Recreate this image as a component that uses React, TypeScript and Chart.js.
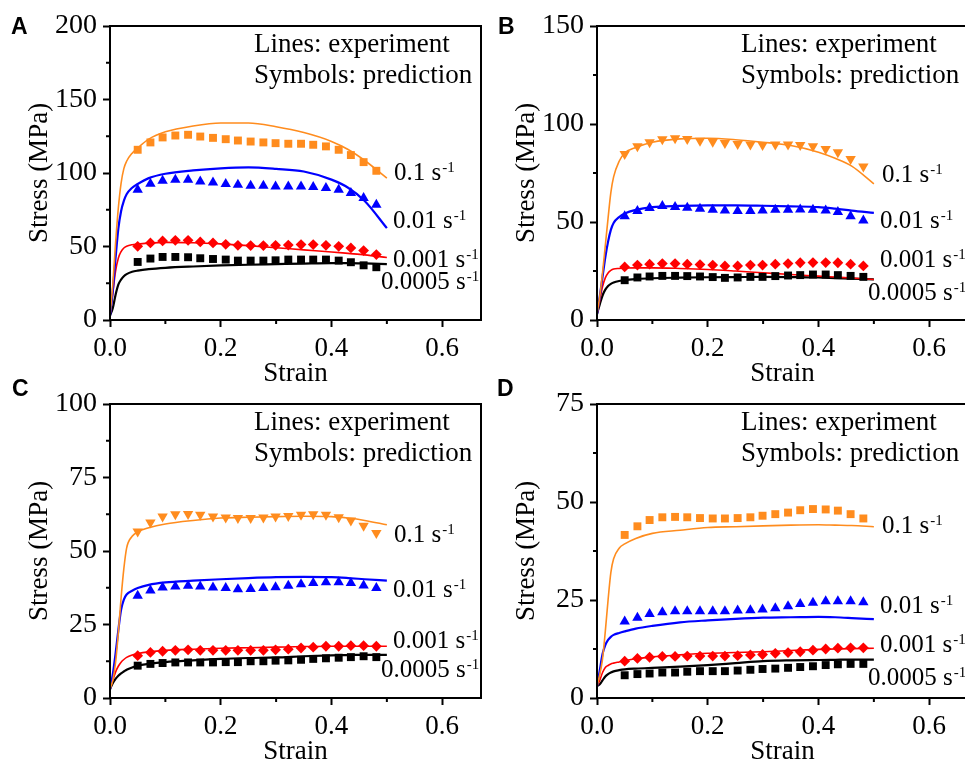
import { useEffect, useRef } from 'react';
import { Chart, registerables } from 'chart.js';

Chart.register(...registerables);

const SERIF = "'Liberation Serif', 'Times New Roman', serif";
const SANS = "'Liberation Sans', Arial, sans-serif";

const ORANGE = '#FF8C1E';
const BLUE = '#0000FF';
const RED = '#FF0000';
const BLACK = '#000000';

// Strain grid of the measured curves and of the model points
const lineStrain = [0, 0.005, 0.01, 0.015, 0.02, 0.025, 0.03, 0.04, 0.05, 0.07, 0.1, 0.15, 0.2, 0.25, 0.3, 0.35, 0.4, 0.43, 0.46, 0.5];
const predStrain = [0.05, 0.073, 0.095, 0.118, 0.141, 0.163, 0.186, 0.209, 0.231, 0.254, 0.277, 0.299, 0.322, 0.345, 0.367, 0.39, 0.413, 0.435, 0.458, 0.481];

const rateLabels = ['0.1', '0.01', '0.001', '0.0005'];
const rateColors = [ORANGE, BLUE, RED, BLACK];

// ---- Panel A ----
const aExp01 = [3, 24, 52, 76, 93, 103, 108, 113.5, 117, 123, 128, 132, 134, 134, 131.5, 127.5, 121.5, 116, 108.5, 96.5];
const aExp001 = [3, 20, 42, 62, 74, 81, 85.5, 90, 92.5, 96.5, 99.5, 101.8, 103.2, 103.8, 102.8, 101, 95.5, 90, 81, 62.5];
const aExp0001 = [3, 18, 33, 42, 46.5, 49, 50.2, 51.2, 51.6, 52.3, 52.8, 52.6, 51.8, 50.6, 49.2, 47.7, 46.3, 45.3, 44.3, 42.5];
const aExp00005 = [3, 8, 17, 24, 27.5, 29.8, 31.2, 32.8, 33.6, 34.6, 35.5, 36.4, 37.1, 37.6, 38.0, 38.4, 38.7, 38.7, 38.5, 38.0];
const aPred01 = [115.8, 120.8, 124.2, 125.5, 126.0, 124.8, 123.9, 123.0, 122.1, 121.4, 120.8, 120.3, 119.9, 119.9, 119.2, 118.1, 115.8, 112.2, 107.4, 101.5];
const aPred001 = [88.6, 92.7, 94.7, 95.4, 95.4, 94.3, 93.6, 92.5, 92.0, 91.3, 91.3, 90.9, 90.9, 90.9, 90.4, 89.8, 88.6, 86.4, 83.0, 78.4];
const aPred0001 = [50.1, 52.4, 53.8, 54.2, 54.2, 53.1, 52.4, 51.5, 50.8, 50.6, 50.6, 50.8, 51.0, 51.3, 51.3, 50.8, 50.1, 49.0, 47.2, 44.5];
const aPred00005 = [39.5, 41.8, 42.9, 42.9, 42.7, 42.0, 41.5, 41.1, 40.4, 40.4, 40.4, 40.6, 41.1, 41.1, 41.1, 41.1, 40.4, 39.3, 37.2, 35.9];

// ---- Panel B ----
const bExp01 = [3, 12, 24, 38, 52, 65, 73, 81, 85.2, 88, 90.7, 92.4, 92.7, 92, 90.7, 89, 85.6, 82.5, 78.5, 69.5];
const bExp001 = [3, 12, 22, 32, 40, 46, 49.5, 52.5, 54.3, 56.2, 57.6, 58.2, 58.5, 58.5, 58.3, 58, 57.6, 56.8, 55.8, 54.7];
const bExp0001 = [3, 10, 17, 21.5, 24, 25.3, 26, 26.3, 26.5, 26.6, 26.6, 26.3, 25.8, 25, 24.1, 23.2, 22.4, 21.9, 21.4, 20.7];
const bExp00005 = [3, 8, 12.5, 15.5, 17.3, 18.4, 19.1, 19.9, 20.4, 20.9, 21.3, 21.6, 21.8, 21.9, 22, 21.9, 21.7, 21.4, 21.1, 20.7];
const bPred01 = [84.7, 88.6, 90.7, 92.2, 92.7, 92.4, 91.5, 91.0, 90.3, 89.8, 89.5, 89.3, 89.5, 89.5, 89.3, 88.6, 87.3, 85.6, 82.2, 78.3];
const bPred001 = [52.9, 55.6, 57.1, 58.1, 57.6, 57.3, 56.8, 56.3, 55.9, 55.6, 55.6, 55.9, 56.3, 56.3, 56.4, 56.3, 55.9, 55.1, 52.9, 50.8];
const bPred0001 = [27.1, 28.0, 28.5, 28.8, 28.8, 28.5, 28.3, 28.0, 27.6, 27.6, 28.0, 28.0, 28.5, 28.8, 29.2, 29.3, 29.3, 29.2, 28.5, 27.6];
const bPred00005 = [20.3, 21.7, 22.2, 22.5, 22.5, 22.4, 22.2, 21.9, 21.5, 21.7, 22.0, 22.0, 22.4, 22.7, 22.9, 23.2, 23.2, 22.9, 22.5, 22.0];

// ---- Panel C ----
const cExp01 = [3, 6, 12, 22, 34, 44, 51, 55, 56.5, 57.9, 59.2, 60.4, 61.2, 61.5, 61.7, 61.8, 61.7, 61.2, 60.4, 58.9];
const cExp001 = [3, 8, 15, 23, 30, 33.5, 35.2, 36.5, 37.4, 38.5, 39.3, 39.9, 40.4, 40.8, 41.1, 41.2, 41.1, 40.8, 40.4, 39.9];
const cExp0001 = [3, 6, 8.8, 10.8, 12.2, 13.1, 13.8, 14.6, 15.1, 15.7, 16.2, 16.6, 16.9, 17.1, 17.3, 17.5, 17.6, 17.6, 17.6, 17.6];
const cExp00005 = [3, 5, 6.5, 7.6, 8.4, 9.0, 9.6, 10.4, 11.0, 11.6, 12.2, 12.8, 13.3, 13.6, 13.8, 14.2, 14.5, 14.6, 14.7, 14.7];
const cPred01 = [56.6, 59.7, 61.7, 62.5, 62.6, 62.3, 61.7, 61.4, 61.2, 61.2, 61.4, 61.7, 61.9, 62.3, 62.5, 62.3, 61.5, 60.4, 58.6, 56.1];
const cPred001 = [34.8, 36.6, 37.6, 37.9, 38.2, 37.9, 37.6, 37.4, 37.0, 37.1, 37.4, 37.7, 38.2, 38.7, 39.1, 39.4, 39.4, 39.1, 38.3, 37.4];
const cPred0001 = [14.4, 15.5, 15.9, 16.2, 16.4, 16.2, 16.2, 16.2, 16.2, 16.2, 16.2, 16.4, 16.6, 17.0, 17.3, 17.6, 17.6, 17.8, 17.8, 17.6];
const cPred00005 = [11.0, 11.6, 11.9, 12.1, 12.1, 12.1, 12.1, 12.2, 12.2, 12.5, 12.5, 12.7, 12.8, 13.0, 13.3, 13.5, 13.7, 13.9, 14.2, 13.9];

// ---- Panel D ----
const dExp01 = [3, 6, 10, 17, 25, 32, 35.5, 38.2, 39.3, 40.7, 42, 42.8, 43.5, 43.7, 43.9, 44.1, 44.2, 44.1, 44, 43.7];
const dExp001 = [3, 7, 11.2, 13.5, 14.8, 15.6, 16.1, 16.6, 17.0, 17.7, 18.4, 19.3, 19.8, 20.2, 20.5, 20.6, 20.7, 20.6, 20.4, 20.1];
const dExp0001 = [3, 4.5, 6.5, 7.8, 8.3, 8.7, 8.9, 9.2, 9.5, 10, 10.5, 11, 11.4, 11.6, 11.8, 12.1, 12.4, 12.5, 12.6, 12.7];
const dExp00005 = [3, 3.5, 4.5, 5.5, 6.1, 6.5, 6.8, 7.1, 7.3, 7.5, 7.7, 8.0, 8.4, 8.9, 9.4, 9.6, 9.7, 9.75, 9.8, 9.8];
const dPred01 = [41.6, 43.8, 45.4, 46.1, 46.2, 46.1, 45.9, 45.8, 45.8, 45.9, 46.1, 46.5, 46.9, 47.3, 47.9, 48.2, 48.1, 47.8, 46.9, 45.8];
const dPred001 = [19.5, 20.5, 21.4, 21.9, 22.1, 22.1, 22.1, 22.1, 22.1, 22.3, 22.4, 22.6, 22.9, 23.4, 24.0, 24.3, 24.7, 24.7, 24.7, 24.4];
const dPred0001 = [9.4, 10.1, 10.4, 10.6, 10.6, 10.7, 10.7, 10.7, 10.7, 10.8, 11.0, 11.1, 11.4, 11.6, 11.8, 12.2, 12.5, 12.7, 12.8, 12.8];
const dPred00005 = [5.8, 6.1, 6.25, 6.5, 6.5, 6.7, 6.85, 6.85, 6.85, 7.0, 7.2, 7.4, 7.5, 7.7, 7.9, 8.1, 8.4, 8.6, 8.7, 8.7];

type Marker = { style: 'rect' | 'triangle' | 'rectRot'; rotation: number; radius: number };
const SQUARE: Marker = { style: 'rect', rotation: 0, radius: 5.6 };
const TRI_UP: Marker = { style: 'triangle', rotation: 0, radius: 6 };
const TRI_DOWN: Marker = { style: 'triangle', rotation: 180, radius: 6 };
const DIAMOND: Marker = { style: 'rectRot', rotation: 0, radius: 5.4 };

type PanelCfg = {
  letter: string;
  letterPos: [number, number];
  left: number;
  top: number;
  yMax: number;
  yStep: number;
  exp: number[][];
  pred: number[][];
  markers: Marker[];
  labelPos: [number, number][];
};

const CANVAS_W = 490;
const CANVAS_H = 395;
const AXIS_W = 110;
const AXIS_H = 75;
const PAD_TOP = 26;
const PAD_RIGHT = 9;

const panels: PanelCfg[] = [
  {
    letter: 'A', letterPos: [11, 34], left: 0, top: 0, yMax: 200, yStep: 50,
    exp: [aExp01, aExp001, aExp0001, aExp00005],
    pred: [aPred01, aPred001, aPred0001, aPred00005],
    markers: [SQUARE, TRI_UP, DIAMOND, SQUARE],
    labelPos: [[284, 154], [283, 202], [283, 241], [271, 263]],
  },
  {
    letter: 'B', letterPos: [11, 34], left: 487, top: 0, yMax: 150, yStep: 50,
    exp: [bExp01, bExp001, bExp0001, bExp00005],
    pred: [bPred01, bPred001, bPred0001, bPred00005],
    markers: [TRI_DOWN, TRI_UP, DIAMOND, SQUARE],
    labelPos: [[285, 156], [283, 202], [283, 241], [271, 274]],
  },
  {
    letter: 'C', letterPos: [12, 18], left: 0, top: 378, yMax: 100, yStep: 25,
    exp: [cExp01, cExp001, cExp0001, cExp00005],
    pred: [cPred01, cPred001, cPred0001, cPred00005],
    markers: [TRI_DOWN, TRI_UP, DIAMOND, SQUARE],
    labelPos: [[284, 138], [283, 193], [283, 244], [271, 273]],
  },
  {
    letter: 'D', letterPos: [10, 18], left: 487, top: 378, yMax: 75, yStep: 25,
    exp: [dExp01, dExp001, dExp0001, dExp00005],
    pred: [dPred01, dPred001, dPred0001, dPred00005],
    markers: [SQUARE, TRI_UP, DIAMOND, SQUARE],
    labelPos: [[285, 129], [283, 209], [283, 248], [271, 281]],
  },
];

// Frame, minor ticks, annotations and panel letter
const decorPlugin = {
  id: 'decor',
  afterDraw(chart: any, _args: any, opts: any) {
    const cfg: PanelCfg = opts.cfg;
    const { ctx, chartArea } = chart;
    const { left, right, top, bottom } = chartArea;
    const xs = chart.scales.x;
    const ys = chart.scales.y;
    ctx.save();
    ctx.strokeStyle = '#000';
    ctx.lineWidth = 2;
    ctx.strokeRect(left, top, right - left, bottom - top);

    // minor ticks
    ctx.beginPath();
    for (const v of [0.1, 0.3, 0.5]) {
      const px = xs.getPixelForValue(v);
      ctx.moveTo(px, bottom);
      ctx.lineTo(px, bottom + 4);
    }
    for (let v = cfg.yStep / 2; v < cfg.yMax; v += cfg.yStep) {
      const py = ys.getPixelForValue(v);
      ctx.moveTo(left, py);
      ctx.lineTo(left - 4, py);
    }
    ctx.stroke();

    ctx.fillStyle = '#000';
    ctx.textAlign = 'left';
    ctx.textBaseline = 'alphabetic';
    ctx.font = `27px ${SERIF}`;
    ctx.fillText('Lines: experiment', left + 144, top + 26);
    ctx.fillText('Symbols: prediction', left + 144, top + 56.5);

    rateLabels.forEach((r, i) => {
      const [dx, dy] = cfg.labelPos[i];
      const main = `${r} s`;
      ctx.font = `25px ${SERIF}`;
      ctx.fillText(main, left + dx, top + dy);
      const w = ctx.measureText(main).width;
      ctx.font = `15px ${SERIF}`;
      ctx.fillText('-1', left + dx + w + 1, top + dy - 8);
    });

    ctx.font = `bold 23px ${SANS}`;
    ctx.fillText(cfg.letter, cfg.letterPos[0], cfg.letterPos[1]);
    ctx.restore();
  },
};

function Panel({ cfg }: { cfg: PanelCfg }) {
  const ref = useRef<HTMLCanvasElement | null>(null);

  useEffect(() => {
    if (!ref.current) return;
    const predSets = cfg.pred.map((vals, i) => ({
      data: predStrain.map((x, j) => ({ x, y: vals[j] })),
      showLine: false,
      pointStyle: cfg.markers[i].style,
      pointRotation: cfg.markers[i].rotation,
      pointRadius: cfg.markers[i].radius,
      pointBorderWidth: 0,
      pointBackgroundColor: rateColors[i],
      pointBorderColor: rateColors[i],
      backgroundColor: rateColors[i],
      borderColor: rateColors[i],
    }));
    const expSets = cfg.exp.map((vals, i) => ({
      data: lineStrain.map((x, j) => ({ x, y: vals[j] })),
      borderColor: rateColors[i],
      borderWidth: i === 0 || i === 2 ? 1.6 : 2.2,
      pointRadius: 0,
      cubicInterpolationMode: 'monotone' as const,
      fill: false,
    }));

    const tickFont = { family: SERIF, size: 27 };
    const chart = new Chart(ref.current, {
      type: 'line',
      data: { datasets: [...predSets, ...expSets] as any },
      plugins: [decorPlugin],
      options: {
        responsive: false,
        animation: false,
        events: [],
        layout: { padding: { top: PAD_TOP, right: PAD_RIGHT, bottom: 0, left: 0 } },
        plugins: {
          legend: { display: false },
          tooltip: { enabled: false },
          decor: { cfg },
        } as any,
        scales: {
          x: {
            type: 'linear',
            min: 0,
            max: 0.67,
            ticks: {
              stepSize: 0.2,
              includeBounds: false,
              autoSkip: false,
              maxRotation: 0,
              padding: 6,
              color: '#000',
              font: tickFont,
              callback: (v: any) => Number(v).toFixed(1),
            },
            grid: { drawOnChartArea: false, tickLength: 7, tickWidth: 2, tickColor: '#000' },
            border: { display: false },
            title: { display: true, text: 'Strain', color: '#000', font: tickFont, padding: { top: 0, bottom: 4.8 } },
            afterFit: (s: any) => { s.height = AXIS_H; },
          },
          y: {
            type: 'linear',
            min: 0,
            max: cfg.yMax,
            ticks: {
              stepSize: cfg.yStep,
              padding: 6,
              color: '#000',
              font: { family: SERIF, size: 28 },
            },
            grid: { drawOnChartArea: false, tickLength: 7, tickWidth: 2, tickColor: '#000' },
            border: { display: false },
            title: { display: true, text: 'Stress (MPa)', color: '#000', font: tickFont, padding: { top: 23.8, bottom: 0 } },
            afterFit: (s: any) => { s.width = AXIS_W; },
          },
        },
      } as any,
    });
    return () => chart.destroy();
  }, [cfg]);

  return (
    <canvas
      ref={ref}
      width={CANVAS_W}
      height={CANVAS_H}
      style={{ position: 'absolute', left: cfg.left, top: cfg.top, width: CANVAS_W, height: CANVAS_H }}
    />
  );
}

export default function App() {
  return (
    <div
      style={{
        position: 'absolute',
        left: 0,
        top: 0,
        width: 965,
        height: 765,
        overflow: 'hidden',
        background: '#fff',
      }}
    >
      {panels.map((p) => (
        <Panel key={p.letter} cfg={p} />
      ))}
    </div>
  );
}
